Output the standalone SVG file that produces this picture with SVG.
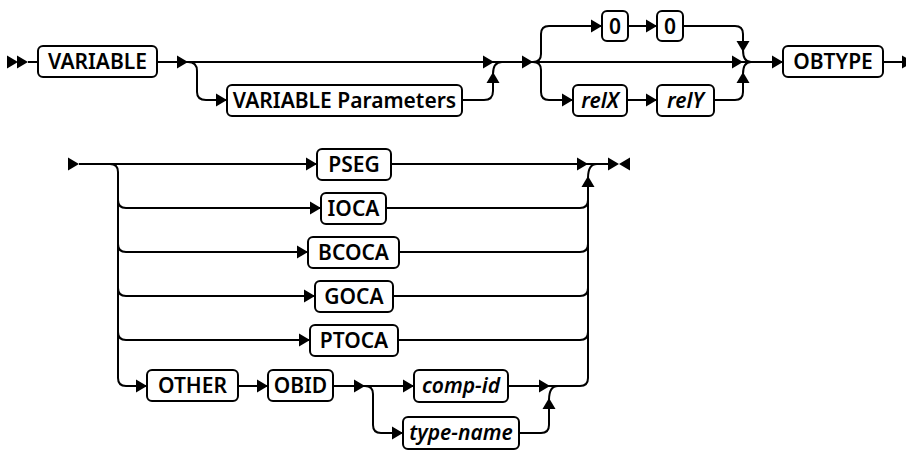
<svg xmlns="http://www.w3.org/2000/svg" width="906" height="451" viewBox="0 0 906 451">
<defs>
<style>
.c{fill:none;stroke:#000;stroke-width:2}
.b{fill:#fff;stroke:#000;stroke-width:2}
text{font-family:"Noto Sans","Liberation Sans",sans-serif;font-size:21px;font-weight:600;text-anchor:middle;fill:#000}
.i{font-style:italic}
</style>
<path id="ar" d="M0,0 L-11,-6.5 L-11,6.5 Z" fill="#000"/>
</defs>
<rect width="906" height="451" fill="#fff"/>
<g id="connectors">
<path class="c" d="M28,62 H38"/>
<path class="c" d="M157,62 H783"/>
<path class="c" d="M188,62 Q197,62 197,71 V92 Q197,100 206,100 H227"/>
<path class="c" d="M462,100 H484 Q493,100 493,91 V74 Q493,62 502,62"/>
<path class="c" d="M533,62 Q541,62 541,54 V34 Q541,26 549,26 H602"/>
<path class="c" d="M533,62 Q541,62 541,70 V92 Q541,100 549,100 H573"/>
<path class="c" d="M628,26 H657"/>
<path class="c" d="M683,26 H735 Q743,26 743,34 V50 Q743,62 751,62"/>
<path class="c" d="M627,100 H657"/>
<path class="c" d="M714,100 H735 Q743,100 743,92 V74 Q743,62 751,62"/>
<path class="c" d="M883,62 H906"/>
<use href="#ar" transform="translate(18,62)"/>
<use href="#ar" transform="translate(28,62)"/>
<use href="#ar" transform="translate(188,62)"/>
<use href="#ar" transform="translate(227,100)"/>
<use href="#ar" transform="translate(494,62)"/>
<use href="#ar" transform="translate(493,72) rotate(-90)"/>
<use href="#ar" transform="translate(533,62)"/>
<use href="#ar" transform="translate(602,26)"/>
<use href="#ar" transform="translate(657,26)"/>
<use href="#ar" transform="translate(743,52) rotate(90)"/>
<use href="#ar" transform="translate(573,100)"/>
<use href="#ar" transform="translate(657,100)"/>
<use href="#ar" transform="translate(743,72) rotate(-90)"/>
<use href="#ar" transform="translate(743,62)"/>
<use href="#ar" transform="translate(783,62)"/>
<use href="#ar" transform="translate(913,62)"/>

<path class="c" d="M79,164 H317"/>
<path class="c" d="M110,164 Q118,164 118,172 V378 Q118,386 126,386 H147"/>
<path class="c" d="M118,200 Q118,208 126,208 H321"/>
<path class="c" d="M118,244 Q118,252 126,252 H308"/>
<path class="c" d="M118,288 Q118,296 126,296 H315"/>
<path class="c" d="M118,332 Q118,340 126,340 H310"/>
<path class="c" d="M238,386 H268"/>
<path class="c" d="M333,386 H414"/>
<path class="c" d="M365,386 Q373,386 373,394 V425 Q373,433 381,433 H403"/>
<path class="c" d="M508,386 H580 Q588,386 588,378 V178 Q588,164 597,164"/>
<path class="c" d="M519,433 H541 Q549,433 549,425 V400 Q549,386 558,386"/>
<path class="c" d="M391,164 H608"/>
<path class="c" d="M386,208 H580 Q588,208 588,200"/>
<path class="c" d="M399,252 H580 Q588,252 588,244"/>
<path class="c" d="M393,296 H580 Q588,296 588,288"/>
<path class="c" d="M398,340 H580 Q588,340 588,332"/>
<use href="#ar" transform="translate(79,164)"/>
<use href="#ar" transform="translate(317,164)"/>
<use href="#ar" transform="translate(321,208)"/>
<use href="#ar" transform="translate(308,252)"/>
<use href="#ar" transform="translate(315,296)"/>
<use href="#ar" transform="translate(310,340)"/>
<use href="#ar" transform="translate(147,386)"/>
<use href="#ar" transform="translate(268,386)"/>
<use href="#ar" transform="translate(365,386)"/>
<use href="#ar" transform="translate(414,386)"/>
<use href="#ar" transform="translate(403,433)"/>
<use href="#ar" transform="translate(550,386)"/>
<use href="#ar" transform="translate(549,398) rotate(-90)"/>
<use href="#ar" transform="translate(588,164)"/>
<use href="#ar" transform="translate(588,176) rotate(-90)"/>
<use href="#ar" transform="translate(619,164)"/>
<use href="#ar" transform="translate(619,164) rotate(180)"/>
</g>
<g id="n-variable"><rect class="b" x="38" y="46" width="119" height="31" rx="5"/><text x="97.5" y="69">VARIABLE</text></g>
<g id="n-variable-parameters"><rect class="b" x="227" y="85" width="235" height="31" rx="5"/><text x="344.5" y="108">VARIABLE Parameters</text></g>
<g id="n-zero-1"><rect class="b" x="602" y="11" width="26" height="30" rx="5"/><text x="615" y="33.5">0</text></g>
<g id="n-zero-2"><rect class="b" x="657" y="11" width="26" height="30" rx="5"/><text x="670" y="33.5">0</text></g>
<g id="n-relx"><rect class="b" x="573" y="85" width="54" height="31" rx="5"/><text class="i" x="600" y="108">relX</text></g>
<g id="n-rely"><rect class="b" x="657" y="85" width="57" height="31" rx="5"/><text class="i" x="685.5" y="108">relY</text></g>
<g id="n-obtype"><rect class="b" x="783" y="46" width="100" height="31" rx="5"/><text x="833" y="69">OBTYPE</text></g>
<g id="n-pseg"><rect class="b" x="317" y="149" width="74" height="31" rx="5"/><text x="354" y="171.5">PSEG</text></g>
<g id="n-ioca"><rect class="b" x="321" y="193" width="65" height="31" rx="5"/><text x="353.5" y="215.5">IOCA</text></g>
<g id="n-bcoca"><rect class="b" x="308" y="237" width="91" height="31" rx="5"/><text x="353.5" y="259.5">BCOCA</text></g>
<g id="n-goca"><rect class="b" x="315" y="281" width="78" height="31" rx="5"/><text x="354" y="303.5">GOCA</text></g>
<g id="n-ptoca"><rect class="b" x="310" y="325" width="88" height="31" rx="5"/><text x="354" y="347.5">PTOCA</text></g>
<g id="n-other"><rect class="b" x="147" y="370" width="91" height="31" rx="5"/><text x="192.5" y="393">OTHER</text></g>
<g id="n-obid"><rect class="b" x="268" y="370" width="65" height="31" rx="5"/><text x="300.5" y="393">OBID</text></g>
<g id="n-comp-id"><rect class="b" x="414" y="370" width="94" height="32" rx="5"/><text class="i" x="461" y="393">comp-id</text></g>
<g id="n-type-name"><rect class="b" x="403" y="417" width="116" height="32" rx="5"/><text class="i" x="461" y="440">type-name</text></g>
</svg>
